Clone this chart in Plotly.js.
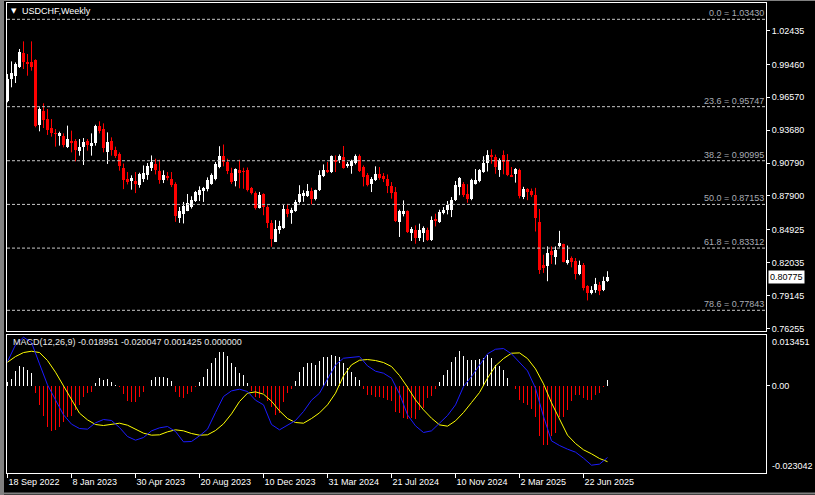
<!DOCTYPE html>
<html><head><meta charset="utf-8">
<script src="https://cdn.plot.ly/plotly-3.0.1.min.js"></script>
<style>html,body{margin:0;padding:0;background:#000;}#chart{width:815px;height:495px;}</style>
</head><body><div id="chart"></div>
<script>
// ---------- data ----------
const dateLabels = ["18 Sep 2022","8 Jan 2023","30 Apr 2023","20 Aug 2023","10 Dec 2023","31 Mar 2024","21 Jul 2024","10 Nov 2024","2 Mar 2025","22 Jun 2025"];
const dateTickIdx = [0,16,32,48,64,80,96,112,128,144];

const open = [0.9627,0.9818,0.9845,0.9926,1.0046,0.9964,0.9964,0.9985,0.9416,0.9540,
0.9466,0.9384,0.9343,0.9317,0.9314,0.9223,0.9276,0.9276,0.9182,0.9217,
0.9276,0.9226,0.9252,0.9402,0.9378,0.9173,0.9270,0.9194,0.9159,0.9035,
0.8935,0.8921,0.8921,0.8883,0.8941,0.8971,0.9038,0.9067,0.9006,0.8932,
0.8968,0.8935,0.8895,0.8595,0.8635,0.8661,0.8696,0.8746,0.8800,0.8834,
0.8850,0.8898,0.8937,0.9044,0.9140,0.9088,0.8992,0.8921,0.9015,0.9006,
0.9022,0.8858,0.8816,0.8683,0.8808,0.8693,0.8551,0.8387,0.8489,0.8507,
0.8679,0.8641,0.8657,0.8733,0.8787,0.8787,0.8833,0.8766,0.8839,0.8962,
0.9015,0.9000,0.9108,0.9102,0.9132,0.9050,0.9050,0.9079,0.9138,0.9044,
0.8971,0.8897,0.8932,0.8979,0.8962,0.8941,0.8874,0.8824,0.8560,0.8628,
0.8654,0.8464,0.8493,0.8423,0.8464,0.8493,0.8399,0.8590,0.8560,0.8640,
0.8663,0.8669,0.8751,0.8872,0.8899,0.8804,0.8767,0.8895,0.8920,0.9000,
0.9078,0.9153,0.9130,0.9015,0.9146,0.9105,0.8971,0.8986,0.9015,0.8782,
0.8849,0.8832,0.8797,0.8564,0.8186,0.8171,0.8302,0.8250,0.8346,0.8366,
0.8200,0.8244,0.8221,0.8104,0.8180,0.7997,0.7938,0.7959,0.8005,0.7959,
0.8046];
const high = [0.9862,0.9973,0.9964,1.0082,1.0149,1.0038,1.0149,0.9991,0.9569,0.9604,
0.9554,0.9466,0.9378,0.9355,0.9340,0.9408,0.9364,0.9290,0.9290,0.9299,
0.9290,0.9340,0.9416,0.9446,0.9428,0.9349,0.9305,0.9223,0.9173,0.9075,
0.9000,0.8971,0.9000,0.8994,0.9058,0.9079,0.9146,0.9117,0.9108,0.9015,
0.9000,0.9000,0.8910,0.8693,0.8737,0.8807,0.8787,0.8834,0.8874,0.8869,
0.8953,0.8988,0.9088,0.9227,0.9242,0.9117,0.9038,0.9032,0.9108,0.9038,
0.9040,0.8869,0.8830,0.8825,0.8813,0.8708,0.8577,0.8577,0.8571,0.8709,
0.8720,0.8686,0.8755,0.8884,0.8840,0.8895,0.8862,0.8845,0.9015,0.9067,
0.9088,0.9146,0.9146,0.9155,0.9229,0.9088,0.9108,0.9155,0.9155,0.9058,
0.8991,0.8956,0.9050,0.9044,0.8991,0.8979,0.8912,0.8868,0.8669,0.8751,
0.8663,0.8517,0.8531,0.8546,0.8522,0.8511,0.8610,0.8634,0.8669,0.8692,
0.8745,0.8780,0.8921,0.8956,0.8912,0.8893,0.8941,0.9026,0.9026,0.9139,
0.9192,0.9200,0.9153,0.9120,0.9190,0.9158,0.9044,0.9035,0.9030,0.8870,
0.8858,0.8855,0.8861,0.8675,0.8273,0.8346,0.8346,0.8346,0.8483,0.8370,
0.8354,0.8258,0.8244,0.8221,0.8200,0.8005,0.7997,0.8069,0.8034,0.8080,
0.8128];
const low = [0.9613,0.9745,0.9783,0.9915,0.9906,0.9847,0.9891,0.9393,0.9358,0.9387,
0.9326,0.9311,0.9223,0.9232,0.9217,0.9211,0.9173,0.9094,0.9144,0.9062,
0.9188,0.9144,0.9232,0.9340,0.9173,0.9071,0.9144,0.9124,0.9012,0.8850,
0.8891,0.8845,0.8815,0.8862,0.8912,0.8932,0.9009,0.8979,0.8897,0.8903,
0.8927,0.8868,0.8562,0.8553,0.8548,0.8656,0.8679,0.8737,0.8745,0.8737,
0.8830,0.8888,0.8927,0.9033,0.9050,0.8982,0.8895,0.8874,0.8857,0.8853,
0.8829,0.8803,0.8670,0.8679,0.8620,0.8508,0.8343,0.8385,0.8457,0.8501,
0.8603,0.8545,0.8650,0.8723,0.8738,0.8781,0.8716,0.8751,0.8833,0.8956,
0.8991,0.8991,0.9000,0.9079,0.9029,0.9038,0.8985,0.9067,0.9000,0.8874,
0.8874,0.8824,0.8921,0.8932,0.8912,0.8815,0.8766,0.8560,0.8429,0.8610,
0.8464,0.8394,0.8370,0.8394,0.8385,0.8394,0.8394,0.8522,0.8552,0.8628,
0.8628,0.8604,0.8745,0.8796,0.8780,0.8730,0.8752,0.8890,0.8910,0.8993,
0.9005,0.9073,0.8985,0.8957,0.8980,0.8964,0.8957,0.8907,0.8768,0.8762,
0.8753,0.8782,0.8477,0.8104,0.8113,0.8040,0.8192,0.8186,0.8337,0.8206,
0.8186,0.8162,0.8055,0.8093,0.7959,0.7871,0.7924,0.7938,0.7918,0.7953,
0.8034];
const close = [0.9818,0.9868,0.9950,1.0052,0.9964,0.9950,0.9926,0.9408,0.9554,0.9457,
0.9370,0.9340,0.9334,0.9340,0.9241,0.9290,0.9258,0.9194,0.9217,0.9261,
0.9241,0.9252,0.9408,0.9358,0.9211,0.9261,0.9194,0.9144,0.9050,0.8930,
0.8912,0.8947,0.8897,0.8979,0.8991,0.9050,0.9088,0.9020,0.8932,0.8971,
0.8944,0.8883,0.8617,0.8658,0.8704,0.8725,0.8758,0.8825,0.8842,0.8861,
0.8933,0.8975,0.9073,0.9137,0.9088,0.9007,0.8912,0.9025,0.8988,0.8998,
0.8839,0.8816,0.8683,0.8796,0.8693,0.8551,0.8409,0.8495,0.8524,0.8679,
0.8630,0.8668,0.8738,0.8805,0.8816,0.8834,0.8766,0.8839,0.8971,0.9015,
0.9000,0.9138,0.9088,0.9138,0.9038,0.9067,0.9097,0.9138,0.9009,0.8956,
0.8883,0.8941,0.8985,0.8950,0.8941,0.8877,0.8815,0.8569,0.8657,0.8657,
0.8473,0.8502,0.8423,0.8487,0.8511,0.8399,0.8575,0.8569,0.8648,0.8669,
0.8707,0.8751,0.8890,0.8945,0.8797,0.8767,0.8930,0.8928,0.9015,0.9080,
0.9153,0.9129,0.9041,0.9110,0.9088,0.8974,0.8960,0.9030,0.8791,0.8855,
0.8826,0.8797,0.8599,0.8142,0.8157,0.8288,0.8267,0.8317,0.8375,0.8209,
0.8229,0.8209,0.8104,0.8180,0.7982,0.7938,0.7967,0.8017,0.7953,0.8046,
0.80775];

const priceTicks = [1.02435,0.99460,0.96570,0.93680,0.90790,0.87900,0.84925,0.82035,0.79145,0.76255];
const lastPrice = 0.80775;
const fibLevels = ["0.0","23.6","38.2","50.0","61.8","78.6"];
const fibPrices = [1.03430,0.95747,0.90995,0.87153,0.83312,0.77843];

const macdHist = [0.0010,0.00185,0.00405,0.00529,0.00511,0.00423,0.00352,-0.00194,-0.00502,-0.00793,
-0.01075,-0.01189,-0.01163,-0.01075,-0.00943,-0.00811,-0.00793,-0.00634,-0.00502,-0.00282,
-0.00176,-0.00150,0.00088,0.00203,0.00159,0.00176,0.00115,0.00026,-0.00035,-0.00211,
-0.00388,-0.00414,-0.00414,-0.00282,-0.00150,-0.00010,0.00159,0.00247,0.00247,0.00247,
0.00203,0.00141,-0.00150,-0.00282,-0.00326,-0.00211,-0.00150,-0.00018,0.00115,0.00247,
0.00441,0.00599,0.00731,0.00907,0.00907,0.00793,0.00617,0.00493,0.00352,0.00291,
0.00070,-0.00123,-0.00282,-0.00326,-0.00194,-0.00388,-0.00564,-0.00766,-0.00705,-0.00414,
-0.00194,-0.00088,0.00141,0.00379,0.00511,0.00599,0.00599,0.00555,0.00670,0.00775,
0.00775,0.00819,0.00793,0.00775,0.00617,0.00467,0.00379,0.00247,0.00159,-0.00088,
-0.00238,-0.00238,-0.00282,-0.00282,-0.00326,-0.00370,-0.00388,-0.00678,-0.00705,-0.00855,
-0.00881,-0.0085,-0.0088,-0.0063,-0.0059,-0.0033,-0.0028,-0.0009,0.00115,0.0029,
0.0042,0.0064,0.0076,0.0091,0.0079,0.0069,0.0069,0.0069,0.0070,0.0073,
0.0082,0.0073,0.0056,0.0053,0.0041,0.0020,0.0000,-0.0009,-0.0037,-0.0046,
-0.0050,-0.0062,-0.0081,-0.0132,-0.0156,-0.0156,-0.0132,-0.0125,-0.0083,-0.0083,
-0.0063,-0.0039,-0.0024,-0.0024,-0.0033,-0.0037,-0.0037,-0.0024,-0.0019,-0.0004,
0.001425];

// MACD main (blue) and signal (yellow), sampled every 2nd week
const macdLine = [0.00643,0.01084,0.01286,0.01145,0.00581,0.00026,-0.00370,-0.00766,-0.01013,-0.01128,
-0.01145,-0.00978,-0.00890,-0.00916,-0.01101,-0.01339,-0.01436,-0.01366,-0.01189,-0.01110,
-0.01075,-0.01207,-0.01480,-0.01471,-0.01322,-0.01145,-0.00705,-0.00282,-0.00132,-0.00088,
-0.00150,-0.00379,-0.00502,-0.01022,-0.01163,-0.01048,-0.00916,-0.00678,-0.00379,-0.00194,
0.00185,0.00555,0.00731,0.00758,0.00775,0.00529,0.00388,0.00335,0.00203,-0.00211,
-0.00766,-0.01057,-0.01233,-0.01189,-0.00987,-0.00784,-0.00502,-0.00018,0.00247,0.00555,
0.00846,0.00969,0.00987,0.00846,0.00617,0.00396,-0.00062,-0.00811,-0.01454,-0.01577,
-0.01674,-0.01753,-0.01912,-0.02097,-0.02070,-0.018951];
const signalLine = [0.00626,0.00775,0.00881,0.00916,0.00881,0.00670,0.00361,0.00000,-0.00388,-0.00722,
-0.00899,-0.01022,-0.01048,-0.01022,-0.00987,-0.01040,-0.01145,-0.01251,-0.01304,-0.01295,
-0.01216,-0.01163,-0.01189,-0.01260,-0.01304,-0.01295,-0.01181,-0.01004,-0.00740,-0.00414,
-0.00194,-0.00159,-0.00220,-0.00405,-0.00661,-0.00863,-0.00969,-0.00987,-0.00863,-0.00714,
-0.00502,-0.00194,0.00264,0.00555,0.00678,0.00696,0.00670,0.00617,0.00511,0.00273,
-0.00035,-0.00370,-0.00634,-0.00855,-0.01031,-0.01066,-0.00925,-0.00705,-0.00441,-0.00176,
0.00203,0.00529,0.00722,0.00863,0.00872,0.00722,0.00449,0.00053,-0.00449,-0.00899,
-0.01304,-0.01524,-0.01691,-0.01797,-0.01921,-0.020047];
const macdMax = 0.013451, macdMin = -0.023042;
const macdHeader = "MACD(12,26,9) -0.018951 -0.020047 0.001425 0.000000";

// ---------- build traces ----------
const UP = '#ffffff', DOWN = '#ff0000';
const upX=[],upBase=[],upLen=[],dnX=[],dnBase=[],dnLen=[];
const upWx=[],upWy=[],dnWx=[],dnWy=[];
open.forEach((o,i)=>{
  const c=close[i];
  if(c>=o){ upX.push(i); upBase.push(o); upLen.push(Math.max(c-o,0.00006));
    upWx.push(i,i,null); upWy.push(low[i],high[i],null); }
  else { dnX.push(i); dnBase.push(c); dnLen.push(o-c);
    dnWx.push(i,i,null); dnWy.push(low[i],high[i],null); }
});
const lineIdx = macdLine.map((_,k)=>2*k);
const histIdx = macdHist.map((_,i)=>i);

const traces = [
  {type:'scatter',mode:'lines',x:upWx,y:upWy,line:{color:UP,width:1},xaxis:'x',yaxis:'y',hoverinfo:'skip'},
  {type:'scatter',mode:'lines',x:dnWx,y:dnWy,line:{color:DOWN,width:1},xaxis:'x',yaxis:'y',hoverinfo:'skip'},
  {type:'bar',x:upX,y:upLen,base:upBase,width:0.75,marker:{color:UP,line:{width:0}},xaxis:'x',yaxis:'y',hoverinfo:'skip'},
  {type:'bar',x:dnX,y:dnLen,base:dnBase,width:0.75,marker:{color:DOWN,line:{width:0}},xaxis:'x',yaxis:'y',hoverinfo:'skip'},
  {type:'bar',x:histIdx,y:macdHist,width:0.25,marker:{color:macdHist.map(v=>v>=0?UP:DOWN),line:{width:0}},xaxis:'x2',yaxis:'y2',hoverinfo:'skip'},
  {type:'scatter',mode:'lines',x:lineIdx,y:signalLine,line:{color:'#ffff00',width:1},xaxis:'x2',yaxis:'y2',hoverinfo:'skip'},
  {type:'scatter',mode:'lines',x:lineIdx,y:macdLine,line:{color:'#1c1cff',width:1},xaxis:'x2',yaxis:'y2',hoverinfo:'skip'}
];

// ---------- layout ----------
const W=815,H=495,L=7,R=49,T=3,B=22;
const ph=H-T-B, pw=W-L-R;
const mainBottomPx=331, macdTopPx=335;
const FONT={family:'Liberation Sans, Arial, sans-serif',size:9,color:'#ffffff'};
const xRange=[-0.125, -0.125 + pw/4];

const shapes = fibPrices.map(p=>({type:'line',xref:'paper',yref:'y',x0:0,x1:1,y0:p,y1:p,
  line:{color:'#c8c8c8',width:1,dash:'3px,2px'}}));
shapes.push({type:'rect',xref:'paper',yref:'paper',x0:-L/pw,x1:-3/pw,y0:-B/ph,y1:1+T/ph,fillcolor:'#808080',line:{width:0},layer:'above'});
shapes.push({type:'line',xref:'paper',yref:'paper',x0:-L/pw,x1:1+R/pw,y0:1+T/ph-0.5/ph,y1:1+T/ph-0.5/ph,line:{color:'#808080',width:1}});
shapes.push({type:'line',xref:'paper',yref:'paper',x0:-L/pw,x1:1+R/pw,y0:-(B-1.5)/ph,y1:-(B-1.5)/ph,line:{color:'#808080',width:2}});

const annotations = fibLevels.map((lv,k)=>({xref:'paper',yref:'y',x:1,y:fibPrices[k],xanchor:'right',yanchor:'bottom',
  text:lv+' = '+fibPrices[k].toFixed(5),showarrow:false,font:{family:FONT.family,size:9,color:'#a8acb4'},borderpad:0,xshift:-1}));
annotations.push({xref:'paper',yref:'y',x:1,y:lastPrice,xanchor:'left',yanchor:'middle',text:lastPrice.toFixed(5),
  showarrow:false,bgcolor:'#ffffff',font:{family:FONT.family,size:9,color:'#000000'},borderpad:1,xshift:2});
annotations.push({xref:'paper',yref:'paper',x:(11-L)/pw,y:(H-B-342)/ph,xanchor:'left',yanchor:'middle',text:macdHeader,
  showarrow:false,font:{family:FONT.family,size:9,color:'#e8e8e8'}});
annotations.push({xref:'paper',yref:'y2',x:1,y:macdMax,xanchor:'left',yanchor:'top',text:macdMax.toFixed(6),
  showarrow:false,font:FONT,xshift:4});
annotations.push({xref:'paper',yref:'y2',x:1,y:macdMin,xanchor:'left',yanchor:'bottom',text:macdMin.toFixed(6),
  showarrow:false,font:FONT,xshift:4});
annotations.push({xref:'paper',yref:'paper',x:(14-L)/pw,y:(H-B-11)/ph,xanchor:'center',yanchor:'middle',text:'▼',
  showarrow:false,font:{family:'DejaVu Sans',size:7,color:'#ffffff'}});

const axLine={showline:true,mirror:true,linecolor:'#ffffff',linewidth:1,showgrid:false,zeroline:false};
const layout = {
  width:W,height:H,margin:{l:L,r:R,t:T,b:B},
  paper_bgcolor:'#000000',plot_bgcolor:'#000000',
  showlegend:false,barmode:'overlay',bargap:0,font:FONT,
  title:{text:'USDCHF,Weekly',xref:'container',yref:'container',x:22/W,xanchor:'left',y:1-11/H,yanchor:'middle',
    font:{family:FONT.family,size:9,color:'#ffffff'}},
  xaxis:Object.assign({},axLine,{domain:[0,1],anchor:'y',range:xRange,showticklabels:false,ticks:''}),
  xaxis2:Object.assign({},axLine,{domain:[0,1],anchor:'y2',matches:'x',range:xRange,
    tickmode:'array',tickvals:dateTickIdx,ticktext:dateLabels,ticks:'outside',ticklen:4,tickcolor:'#ffffff',
    ticklabelposition:'outside right',tickfont:FONT}),
  yaxis:Object.assign({},axLine,{domain:[(H-B-mainBottomPx)/ph,1],anchor:'x',side:'right',
    range:[0.76023,1.04863],tickmode:'array',tickvals:priceTicks,tickformat:'.5f',
    ticks:'outside',ticklen:3,tickcolor:'#ffffff',tickfont:FONT}),
  yaxis2:Object.assign({},axLine,{domain:[0,(H-B-macdTopPx)/ph],anchor:'x2',side:'right',
    range:[macdMin,macdMax],tickmode:'array',tickvals:[0],ticktext:['0.00'],
    ticks:'outside',ticklen:3,tickcolor:'#ffffff',tickfont:FONT}),
  shapes:shapes,annotations:annotations
};
Plotly.newPlot('chart',traces,layout,{staticPlot:true,displayModeBar:false});
</script></body></html>
